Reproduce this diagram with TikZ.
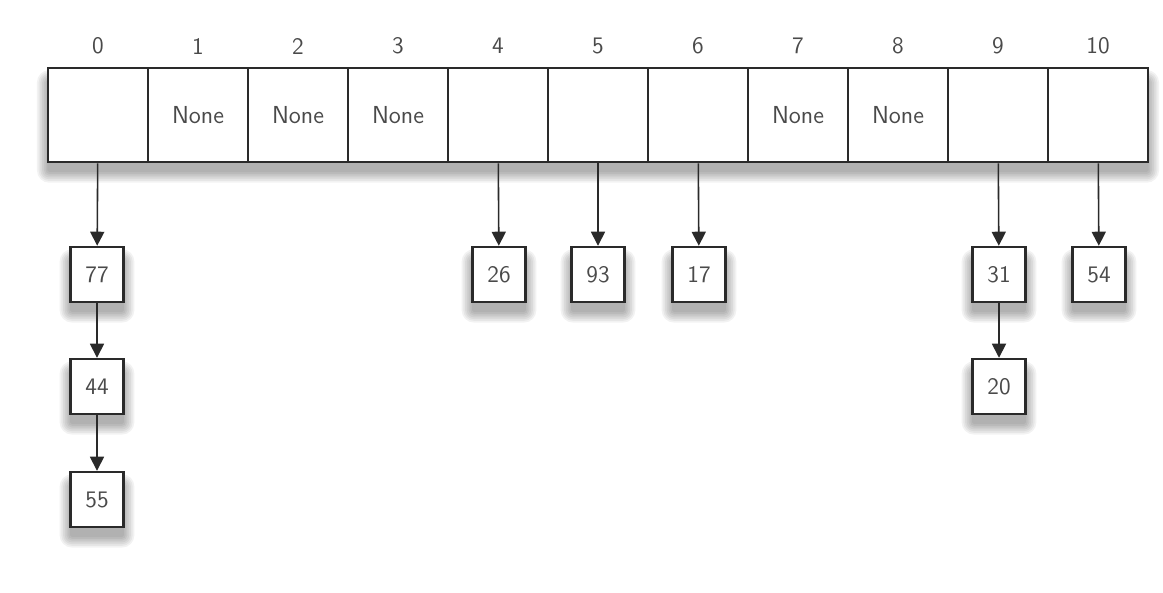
\documentclass[tikz,border=0pt]{standalone}
\usetikzlibrary{arrows.meta,backgrounds}
\definecolor{ink}{HTML}{2A2A2A}
\definecolor{txt}{HTML}{4A4A4A}
\tikzset{
  slot/.style={draw=ink, line width=1.6pt, fill=white, minimum width=2cm,
    minimum height=1.88cm, inner sep=0pt, text=txt,
    font=\sffamily\fontsize{14}{16}\selectfont},
  item/.style={draw=ink, line width=1.4pt, fill=white, minimum width=1.06cm,
    minimum height=1.1cm, inner sep=0pt, text=txt,
    font=\sffamily\fontsize{13.5}{16}\selectfont},
  idx/.style={text=txt, font=\sffamily\fontsize{13.5}{16}\selectfont},
  link/.style={draw=ink, line width=0.9pt,
    -{Triangle[width=8pt,length=8pt]}},
}
% soft shadow under a box given by two corner anchors
\newcommand\softshade[2]{%
  \foreach \k in {1,...,7}{%
    \fill[black, opacity=0.05, rounded corners=\k pt]
      ([xshift=-\k pt+1.5pt, yshift=\k pt-9pt]#1) rectangle
      ([xshift=\k pt-1.5pt, yshift=-\k pt-4pt]#2);
  }%
}
\begin{document}
\begin{tikzpicture}[x=0.02cm, y=-0.02cm]
  \useasboundingbox (0,0) rectangle (1163,592);

  % hash table slots with their index labels
  \foreach \i/\t in {0/,1/None,2/None,3/None,4/,5/,6/,7/None,8/None,9/,10/}{
    \node[slot] (c\i) at ({98+100*\i},115) {\t};
    \node[idx] (l\i) at ({98+100*\i},46) {\i};
  }

  % chained items
  \node[item] (n77) at (97,274.5) {77};
  \node[item] (n44) at (97,386.5) {44};
  \node[item] (n55) at (97,499.5) {55};
  \node[item] (n26) at (499,274.5) {26};
  \node[item] (n93) at (598,274.5) {93};
  \node[item] (n17) at (699,274.5) {17};
  \node[item] (n31) at (999,274.5) {31};
  \node[item] (n20) at (999,386.5) {20};
  \node[item] (n54) at (1099,274.5) {54};

  \begin{scope}[on background layer]
    \softshade{c0.north west}{c10.south east}
    \foreach \n in {n77,n44,n55,n26,n93,n17,n31,n20,n54}{
      \softshade{\n.north west}{\n.south east}
    }
  \end{scope}

  % pointers from slots into chains
  \draw[link] (c0) -- (n77);
  \draw[link] (n77) -- (n44);
  \draw[link] (n44) -- (n55);
  \draw[link] (c4) -- (n26);
  \draw[link] (c5) -- (n93);
  \draw[link] (c6) -- (n17);
  \draw[link] (c9) -- (n31);
  \draw[link] (n31) -- (n20);
  \draw[link] (c10) -- (n54);
\end{tikzpicture}
\end{document}
